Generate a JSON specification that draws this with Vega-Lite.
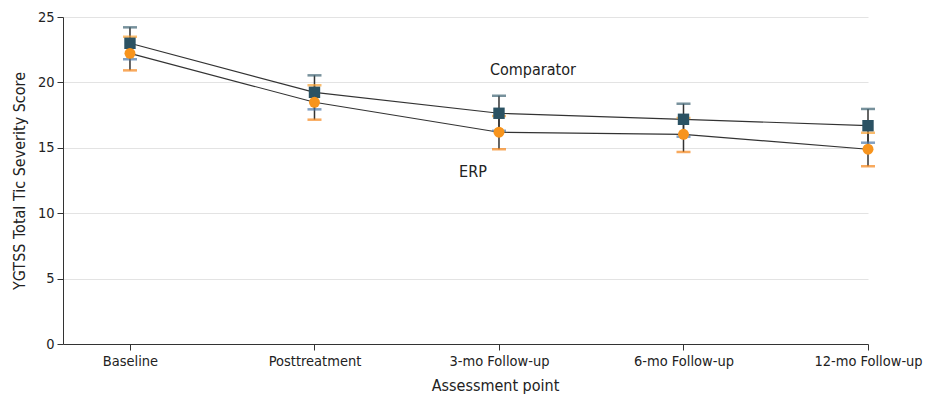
{
  "$schema": "https://vega.github.io/schema/vega-lite/v6.json",
  "autosize": "none",
  "width": 805,
  "height": 327,
  "padding": {"left": 63, "top": 17, "right": 57, "bottom": 50},
  "background": "white",
  "config": {
    "font": "DejaVu Sans Condensed, Roboto, sans-serif",
    "view": {"stroke": null},
    "axis": {
      "labelFont": "DejaVu Sans Condensed, Roboto, sans-serif",
      "titleFont": "DejaVu Sans Condensed, Roboto, sans-serif",
      "labelFontSize": 14.5,
      "titleFontSize": 16,
      "titleFontWeight": "normal",
      "labelColor": "#222",
      "titleColor": "#222",
      "domainColor": "#333",
      "tickColor": "#333"
    }
  },
  "datasets": {
    "scores": [
      {"point": 0, "group": "Comparator", "mean": 22.99, "lo": 21.77, "hi": 24.21},
      {"point": 1, "group": "Comparator", "mean": 19.24, "lo": 17.94, "hi": 20.54},
      {"point": 2, "group": "Comparator", "mean": 17.64, "lo": 16.30, "hi": 18.98},
      {"point": 3, "group": "Comparator", "mean": 17.18, "lo": 15.85, "hi": 18.37},
      {"point": 4, "group": "Comparator", "mean": 16.69, "lo": 15.39, "hi": 17.97},
      {"point": 0, "group": "ERP", "mean": 22.22, "lo": 20.92, "hi": 23.49},
      {"point": 1, "group": "ERP", "mean": 18.48, "lo": 17.15, "hi": 19.78},
      {"point": 2, "group": "ERP", "mean": 16.19, "lo": 14.89, "hi": 17.43},
      {"point": 3, "group": "ERP", "mean": 16.03, "lo": 14.68, "hi": 17.28},
      {"point": 4, "group": "ERP", "mean": 14.89, "lo": 13.59, "hi": 16.15}
    ],
    "notes": [
      {"label": "Comparator", "point": 2.184, "value": 20.95},
      {"label": "ERP", "point": 1.859, "value": 13.15}
    ]
  },
  "layer": [
    {
      "data": {"name": "scores"},
      "mark": {"type": "rule", "color": "#333", "strokeWidth": 1.5},
      "encoding": {
        "x": {
          "field": "point", "type": "quantitative",
          "scale": {"domain": [-0.363, 4], "nice": false, "zero": false},
          "axis": {
            "title": "Assessment point",
            "values": [0, 1, 2, 3, 4],
            "labelExpr": "['Baseline','Posttreatment','3-mo Follow-up','6-mo Follow-up','12-mo Follow-up'][datum.value]",
            "labelFlush": false,
            "labelOverlap": false,
            "grid": false,
            "tickSize": 6,
            "labelPadding": 4,
            "titlePadding": 10,
            "titleX": 432
          }
        },
        "y": {
          "field": "lo", "type": "quantitative",
          "scale": {"domain": [0, 25], "nice": false},
          "axis": {
            "title": "YGTSS Total Tic Severity Score",
            "values": [0, 5, 10, 15, 20, 25],
            "grid": true,
            "gridColor": "#e3e3e3",
            "tickSize": 6,
            "labelPadding": 3,
            "titlePadding": 10
          }
        },
        "y2": {"field": "hi"}
      }
    },
    {
      "data": {"name": "scores"},
      "mark": {"type": "line", "color": "#333", "strokeWidth": 1.2},
      "encoding": {
        "x": {"field": "point", "type": "quantitative"},
        "y": {"field": "mean", "type": "quantitative"},
        "detail": {"field": "group"}
      }
    },
    {
      "data": {"name": "scores"},
      "mark": {"type": "tick", "orient": "horizontal", "size": 14, "thickness": 2.5},
      "encoding": {
        "x": {"field": "point", "type": "quantitative"},
        "y": {"field": "hi", "type": "quantitative"},
        "color": {"field": "group", "type": "nominal", "scale": {"domain": ["Comparator", "ERP"], "range": ["#3d6272", "#f8a030"]}, "legend": null}
      }
    },
    {
      "data": {"name": "scores"},
      "mark": {"type": "tick", "orient": "horizontal", "size": 14, "thickness": 2.5},
      "encoding": {
        "x": {"field": "point", "type": "quantitative"},
        "y": {"field": "lo", "type": "quantitative"},
        "color": {"field": "group", "type": "nominal", "legend": null}
      }
    },
    {
      "data": {"name": "scores"},
      "mark": {"type": "point", "filled": true, "opacity": 1},
      "encoding": {
        "x": {"field": "point", "type": "quantitative"},
        "y": {"field": "mean", "type": "quantitative"},
        "shape": {"field": "group", "type": "nominal", "scale": {"domain": ["Comparator", "ERP"], "range": ["square", "circle"]}, "legend": null},
        "size": {"field": "group", "type": "nominal", "scale": {"domain": ["Comparator", "ERP"], "range": [130, 120]}, "legend": null},
        "color": {"field": "group", "type": "nominal", "scale": {"domain": ["Comparator", "ERP"], "range": ["#2b5263", "#f7941d"]}, "legend": null}
      }
    },
    {
      "data": {"name": "notes"},
      "mark": {"type": "text", "fontSize": 16, "color": "#222", "align": "center", "baseline": "middle", "font": "DejaVu Sans Condensed, Roboto, sans-serif"},
      "encoding": {
        "x": {"field": "point", "type": "quantitative"},
        "y": {"field": "value", "type": "quantitative"},
        "text": {"field": "label"}
      }
    }
  ],
  "resolve": {"scale": {"color": "independent"}}
}
